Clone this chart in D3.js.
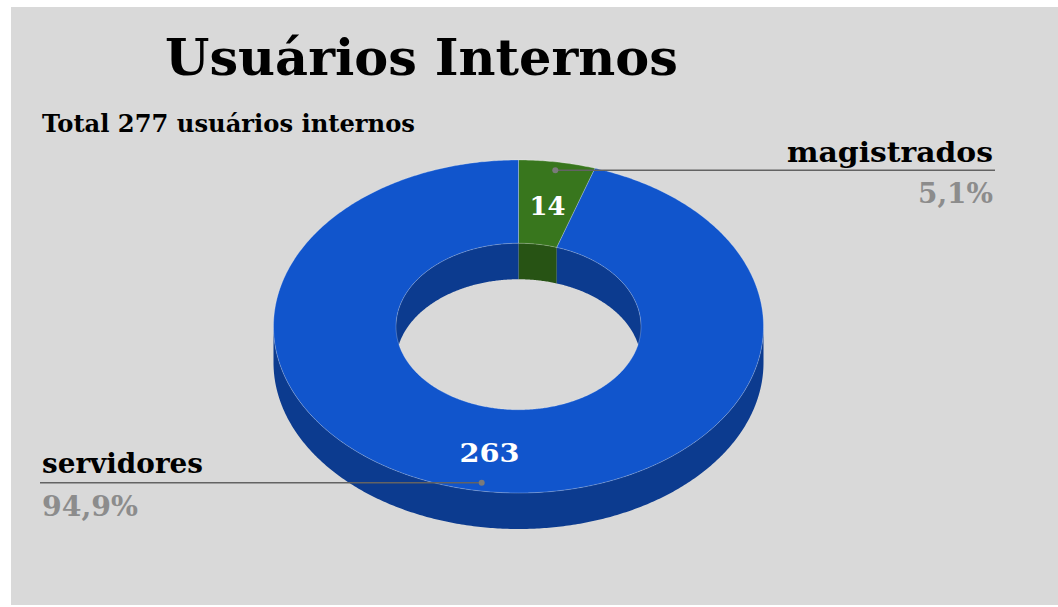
<!DOCTYPE html>
<html>
<head>
<meta charset="utf-8">
<script src="https://cdn.jsdelivr.net/npm/d3@7"></script>
<style>
  html, body { margin: 0; padding: 0; background: #ffffff; }
  svg { display: block; }
  text { font-family: "DejaVu Serif", Georgia, serif; font-weight: bold; }
</style>
</head>
<body>
<svg id="chart" width="1058" height="607"></svg>
<script>
// ---- data ----
const titleText = "Usuários Internos";
const subtitleText = "Total 277 usuários internos";
const categories = ["magistrados", "servidores"];
const values = [14, 263];
const colors = ["#38761d", "#1155cc"];

// ---- layout ----
const W = 1058, H = 607;
const cx = 518.5, cy = 326.5, rx = 245, ry = 166.5, hole = 0.5, depth = 36;

const svg = d3.select("#chart");
svg.append("rect").attr("x", 11).attr("y", 7).attr("width", W - 11).attr("height", 598).attr("fill", "#d9d9d9");

const ptBR = d3.formatLocale({decimal: ",", thousands: ".", grouping: [3], currency: ["R$", ""]});
const fmtPct = ptBR.format(".1%");
const total = d3.sum(values);

const pie = d3.pie().sort(null).value(d => d.value);
const arcs = pie(categories.map((c, i) => ({name: c, value: values[i], color: colors[i]})));

const ex = (a, k) => cx + rx * k * Math.sin(a);
const ey = (a, k, dz) => cy - ry * k * Math.cos(a) + (dz || 0);
const samp = (a0, a1) => { const n = Math.max(2, Math.ceil(Math.abs(a1 - a0) / 0.01)); return d3.range(n + 1).map(i => a0 + (a1 - a0) * i / n); };
const line = d3.line().x(d => d[0]).y(d => d[1]);

function wallPath(a0, a1, k) {
  const top = samp(a0, a1).map(a => [ex(a, k), ey(a, k, 0)]);
  const bot = samp(a1, a0).map(a => [ex(a, k), ey(a, k, depth)]);
  return line(top.concat(bot)) + "Z";
}
function topPath(a0, a1) {
  const outer = samp(a0, a1).map(a => [ex(a, 1), ey(a, 1)]);
  const inner = samp(a1, a0).map(a => [ex(a, hole), ey(a, hole)]);
  return line(outer.concat(inner)) + "Z";
}
function clip(a0, a1, lo, hi) { const s = Math.max(a0, lo), e = Math.min(a1, hi); return s < e ? [s, e] : null; }

const g = svg.append("g");
// outer front walls
arcs.forEach(d => {
  const c = clip(d.startAngle, d.endAngle, Math.PI / 2, 3 * Math.PI / 2);
  if (c) g.append("path").attr("d", wallPath(c[0], c[1], 1)).attr("fill", d3.color(d.data.color).darker(1));
});
// inner back walls
arcs.forEach(d => {
  [[0, Math.PI / 2], [3 * Math.PI / 2, 2 * Math.PI]].forEach(r => {
    const c = clip(d.startAngle, d.endAngle, r[0], r[1]);
    if (c) g.append("path").attr("d", wallPath(c[0], c[1], hole)).attr("fill", d3.color(d.data.color).darker(1));
  });
});
// top faces
arcs.forEach(d => {
  g.append("path").attr("d", topPath(d.startAngle, d.endAngle))
    .attr("fill", d.data.color)
    .attr("stroke", "rgba(255,255,255,0.35)").attr("stroke-width", 0.7);
});

// value labels
const valueW = [36, 60];
arcs.forEach((d, i) => {
  const m = (d.startAngle + d.endAngle) / 2;
  g.append("text").attr("x", ex(m, 0.75)).attr("y", ey(m, 0.75) + 12)
    .attr("text-anchor", "middle").attr("fill", "#ffffff").attr("font-size", 26)
    .attr("textLength", valueW[i]).attr("lengthAdjust", "spacingAndGlyphs")
    .text(d.data.value);
});

// leader lines and legend labels
const lab = [
  {endX: 995, anchor: "end", tx: 993, nameW: 206, pctW: 75, nameDy: -8, pctDy: 33},
  {endX: 40, anchor: "start", tx: 42, nameW: 161, pctW: 96, nameDy: -10, pctDy: 33}
];
arcs.forEach((d, i) => {
  const m = (d.startAngle + d.endAngle) / 2;
  const px = ex(m, 0.95), py = ey(m, 0.95);
  const L = lab[i];
  svg.append("line").attr("x1", px).attr("y1", py).attr("x2", L.endX).attr("y2", py)
    .attr("stroke", "#636363").attr("stroke-width", 1.6);
  svg.append("circle").attr("cx", px).attr("cy", py).attr("r", 3).attr("fill", "#7a7a7a");
  svg.append("text").attr("x", L.tx).attr("y", py + L.nameDy).attr("text-anchor", L.anchor)
    .attr("font-size", 27).attr("fill", "#000")
    .attr("textLength", L.nameW).attr("lengthAdjust", "spacingAndGlyphs")
    .text(d.data.name);
  svg.append("text").attr("x", L.tx).attr("y", py + L.pctDy).attr("text-anchor", L.anchor)
    .attr("font-size", 27).attr("fill", "#8c8c8c")
    .attr("textLength", L.pctW).attr("lengthAdjust", "spacingAndGlyphs")
    .text(fmtPct(d.value / total));
});

// titles
svg.append("text").attr("x", 165).attr("y", 75).attr("font-size", 50).attr("fill", "#000")
  .attr("textLength", 513).attr("lengthAdjust", "spacingAndGlyphs").text(titleText);
svg.append("text").attr("x", 42).attr("y", 132).attr("font-size", 24).attr("fill", "#000")
  .attr("textLength", 373).attr("lengthAdjust", "spacingAndGlyphs").text(subtitleText);
</script>
</body>
</html>
